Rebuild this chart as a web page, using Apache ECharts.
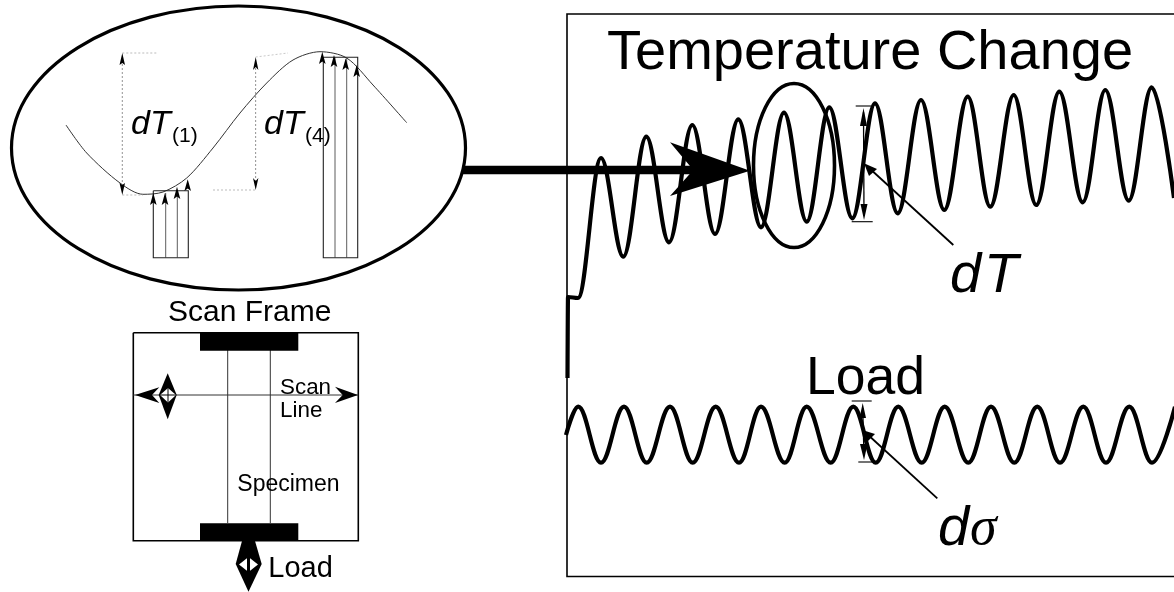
<!DOCTYPE html>
<html><head><meta charset="utf-8">
<style>html,body{margin:0;padding:0;background:#fff}#c{width:1174px;height:592px}</style>
<script src="https://cdn.jsdelivr.net/npm/echarts@6/dist/echarts.min.js"></script>
</head><body><div id="c"></div>
<script>
// Temperature trace (diagram x, diagram y)
const tempX = [567.5,568,578,601,623.3,646.3,669,692.3,715,738.3,761,784,806.7,829.3,852.3,875,897.7,921,944.3,967.7,990.3,1013.7,1036.3,1059.3,1082.7,1105.3,1128.7,1151.7,1174];
const tempY = [378,297,298,158,256.7,136.7,242.3,125,234,119.3,227.3,112.7,221.7,107.3,218.3,103.3,213.3,100,210,96.7,206.7,95,205,91.7,202.3,90,200.7,87.3,198];
// Load trace
const loadX = [566,578.3,601,624,646.7,670,692.7,715.7,739,761,784.7,806.7,830.7,853.3,875.7,898.3,921.7,944.7,968.3,991,1014.3,1037.3,1060,1083.3,1106,1129.3,1152,1175];
const loadY = [435,406.7,462.7,406.7,462.7,406.7,462.7,406.7,462.7,406.7,462.7,406.7,462.7,406.7,462.7,406.7,462.7,406.7,462.7,406.7,462.7,406.7,462.7,406.7,462.7,406.7,462.7,406.7];
// Magnified cycle in the inset ellipse
const insetX = [66,86.7,120,143,163,186.7,213,240,266.7,293,320,346.7,373,406.7];
const insetY = [125,153,183,194.3,192,178,148,113,83,60,51.7,58,85,122.7];

const zip = (a,b)=>a.map((v,i)=>[v,b[i]]);

const ellipses = [
  {c:[238.5,148],r:[227,142],w:3.2},
  {c:[794,165.5],r:[40.5,82],w:3.6}
];
const polylines = [
  // panel frame
  {p:[[1174,14],[567,14],[567,576.5],[1174,576.5]],w:1.6},
  // inset bars
  {p:[[153.3,190.7],[188.3,190.7],[188.3,257.7],[153.3,257.7],[153.3,190.7]],w:1.1,col:'#222'},
  {p:[[165.7,193],[165.7,257.7]],w:.8,col:'#333'},{p:[[177.3,190],[177.3,257.7]],w:.8,col:'#333'},
  {p:[[323.3,57.3],[357.7,57.3],[357.7,257.7],[323.3,257.7],[323.3,57.3]],w:1.1,col:'#222'},
  {p:[[335,57],[335,257.7]],w:.8,col:'#333'},{p:[[346.7,58],[346.7,257.7]],w:.8,col:'#333'},
  // inset dimension lines
  {p:[[122.3,60],[122.3,188]],w:.8,col:'#777',dash:[2,2]},
  {p:[[122.3,53],[158,53]],w:.8,col:'#aaa',dash:[2,2]},
  {p:[[122.3,195],[143,195]],w:.8,col:'#aaa',dash:[2,2]},
  {p:[[255.7,64],[255.7,182]],w:.8,col:'#777',dash:[2,2]},
  {p:[[255.7,57],[288,53]],w:.8,col:'#bbb',dash:[2,2]},
  {p:[[213,190],[255.7,190]],w:.8,col:'#aaa',dash:[2,2]},
  // main arrow shaft
  {p:[[462,170],[700,170]],w:8.4},
  // dT marker
  {p:[[855.7,106],[871,106]],w:1.1},{p:[[851.7,221.7],[872.7,221.7]],w:1.1},
  {p:[[863.5,112],[864,216]],w:1.3},
  {p:[[953.3,245],[868,167]],w:1.8},
  // d-sigma marker
  {p:[[851.7,401],[871.7,401]],w:1.1},{p:[[858.3,462],[878,462]],w:1.1},
  {p:[[862.7,408],[864,455]],w:1.3},
  {p:[[937.3,498.3],[866,433]],w:1.8},
  // scan frame
  {p:[[133.3,332.7],[358.3,332.7],[358.3,540.7],[133.3,540.7],[133.3,332.7]],w:1.6},
  {p:[[227.7,350],[227.7,523]],w:1,col:'#333'},{p:[[270.3,350],[270.3,523]],w:1,col:'#333'},
  {p:[[133.3,395],[358.3,395]],w:1,col:'#333'}
];
const polygons = [
  // main arrow head
  {p:[[750,170.7],[670,142.3],[693.3,170],[670,196]]},
  // inset arrowheads (bars)
  {p:[[153.3,193],[150,205],[153.3,202.5],[156.6,205]]},{p:[[165,192.7],[161.7,205],[165,202.5],[168.3,205]]},
  {p:[[177,186.7],[173.7,199],[177,196.5],[180.3,199]]},{p:[[187.7,179.3],[184.4,191],[187.7,188.5],[191,191]]},
  {p:[[322.3,51.7],[319,64],[322.3,61.5],[325.6,64]]},{p:[[334,55],[330.7,67],[334,64.5],[337.3,67]]},
  {p:[[345.7,58.3],[342.4,70],[345.7,67.5],[349,70]]},{p:[[356.7,65],[353.4,77],[356.7,74.5],[360,77]]},
  // inset dimension arrowheads
  {p:[[122.3,53],[119.5,65],[122.3,63],[125,65]]},{p:[[122.3,195],[119.5,183],[122.3,185],[125,183]]},
  {p:[[255.7,57],[253,70],[255.7,67],[258.4,70]]},{p:[[255.7,190],[253,178],[255.7,181],[258.4,178]]},
  // dT marker heads
  {p:[[863.5,108],[860,126],[867,126]]},{p:[[864,220],[860.5,204],[867.5,204]]},
  {p:[[864,163.3],[869,176],[877,169]]},
  // d-sigma marker heads
  {p:[[862.7,403],[859.5,418],[866,418]]},{p:[[864,460],[860,444],[867.5,444]]},
  {p:[[862.3,430],[867,442],[875,434]]},
  // frame grips
  {p:[[200,333],[298.3,333],[298.3,350.7],[200,350.7]]},
  {p:[[200,523.3],[298.3,523.3],[298.3,541],[200,541]]},
  // scan line heads
  {p:[[135,395],[159.3,387.3],[152,395],[159.3,403]]},
  {p:[[358,395],[335,386.7],[342.7,395],[335,403]]},
  // motion diamonds
  {p:[[167.7,373.3],[176.7,395],[167.7,419.3],[158.7,395]]},
  {p:[[168,388],[176,395],[168,402.5],[160,395]],col:'#fff'},
  {p:[[242,541],[255,541],[261.7,564],[248.5,591.7],[235.7,564]]},
  {p:[[248.5,557],[258,564.5],[248.5,572],[239,564.5]],col:'#fff'}
];
const crossLines = [
  {p:[[168,388],[168,402.5]],w:1},{p:[[160,395],[176,395]],w:1},
  {p:[[248.5,555],[248.5,574]],w:3}
];
const labels = [
  {t:'Temperature Change',x:607,y:68,s:56},
  {t:'Load',x:806,y:392.7,s:53.5},
  {t:'d',x:950,y:290,s:56,i:1},{t:'T',x:984,y:290,s:56,i:1},
  {t:'d',x:938,y:543,s:56,i:1},{t:'σ',x:970,y:543,s:54,i:1,f:1},
  {t:'dT',x:131,y:133,s:34,i:1},{t:'(1)',x:172,y:141,s:21},
  {t:'dT',x:264,y:133,s:34,i:1},{t:'(4)',x:305,y:141,s:21},
  {t:'Scan Frame',x:168,y:320,s:30},
  {t:'Scan',x:280,y:393.3,s:22.4},{t:'Line',x:280,y:416.7,s:22.4},
  {t:'Specimen',x:237.3,y:490.7,s:23},
  {t:'Load',x:268.3,y:576.7,s:29}
];

const style = (o)=>({stroke:o.col||'#000',lineWidth:o.w,fill:null,lineDash:o.dash||null,lineCap:'butt',lineJoin:'miter'});
function customSeries(list,draw,z){
  return {type:'custom',coordinateSystem:'cartesian2d',clip:false,silent:true,z:z,
    data:list.map((_,i)=>[i,0]),encode:{x:0,y:1},
    renderItem:(params,api)=>draw(list[params.dataIndex],api)};
}
const traceStyle = {color:'#000',width:4.2,join:'round'};
const option = {
  animation:false,backgroundColor:'#fff',
  grid:{left:0,right:0,top:0,bottom:0},
  xAxis:{type:'value',min:0,max:1174,show:false},
  yAxis:{type:'value',min:0,max:592,inverse:true,show:false},
  series:[
    {type:'line',name:'Temperature Change',data:zip(tempX,tempY),symbol:'none',smooth:.36,smoothMonotone:'x',lineStyle:traceStyle,z:2,clip:false},
    {type:'line',name:'Load',data:zip(loadX,loadY),symbol:'none',smooth:.38,smoothMonotone:'x',lineStyle:traceStyle,z:2,clip:false},
    {type:'line',name:'Inset',data:zip(insetX,insetY),symbol:'none',smooth:.3,lineStyle:{color:'#333',width:1},z:2},
    customSeries(polylines,(o,api)=>({type:'polyline',shape:{points:o.p.map(q=>api.coord(q))},style:style(o)}),3),
    customSeries(ellipses,(o,api)=>{const c=api.coord(o.c),r=api.size(o.r);
      return {type:'ellipse',shape:{cx:c[0],cy:c[1],rx:r[0],ry:r[1]},style:{stroke:'#000',lineWidth:o.w,fill:null}};},4),
    customSeries(polygons,(o,api)=>({type:'polygon',shape:{points:o.p.map(q=>api.coord(q))},style:{fill:o.col||'#000',stroke:null}}),5),
    customSeries(crossLines,(o,api)=>({type:'polyline',shape:{points:o.p.map(q=>api.coord(q))},style:style(o)}),6),
    customSeries(labels,(o,api)=>{const c=api.coord([o.x,o.y]);
      return {type:'text',style:{text:o.t,x:c[0],y:c[1]-o.s*0.75,textAlign:'left',verticalAlign:'top',fill:'#000',
        font:(o.i?'italic ':'')+o.s+'px "'+(o.f?'Liberation Serif':'Liberation Sans')+'"'}};},7)
  ]
};
const chart = echarts.init(document.getElementById('c'),null,{renderer:'canvas'});
chart.setOption(option);
</script></body></html>
